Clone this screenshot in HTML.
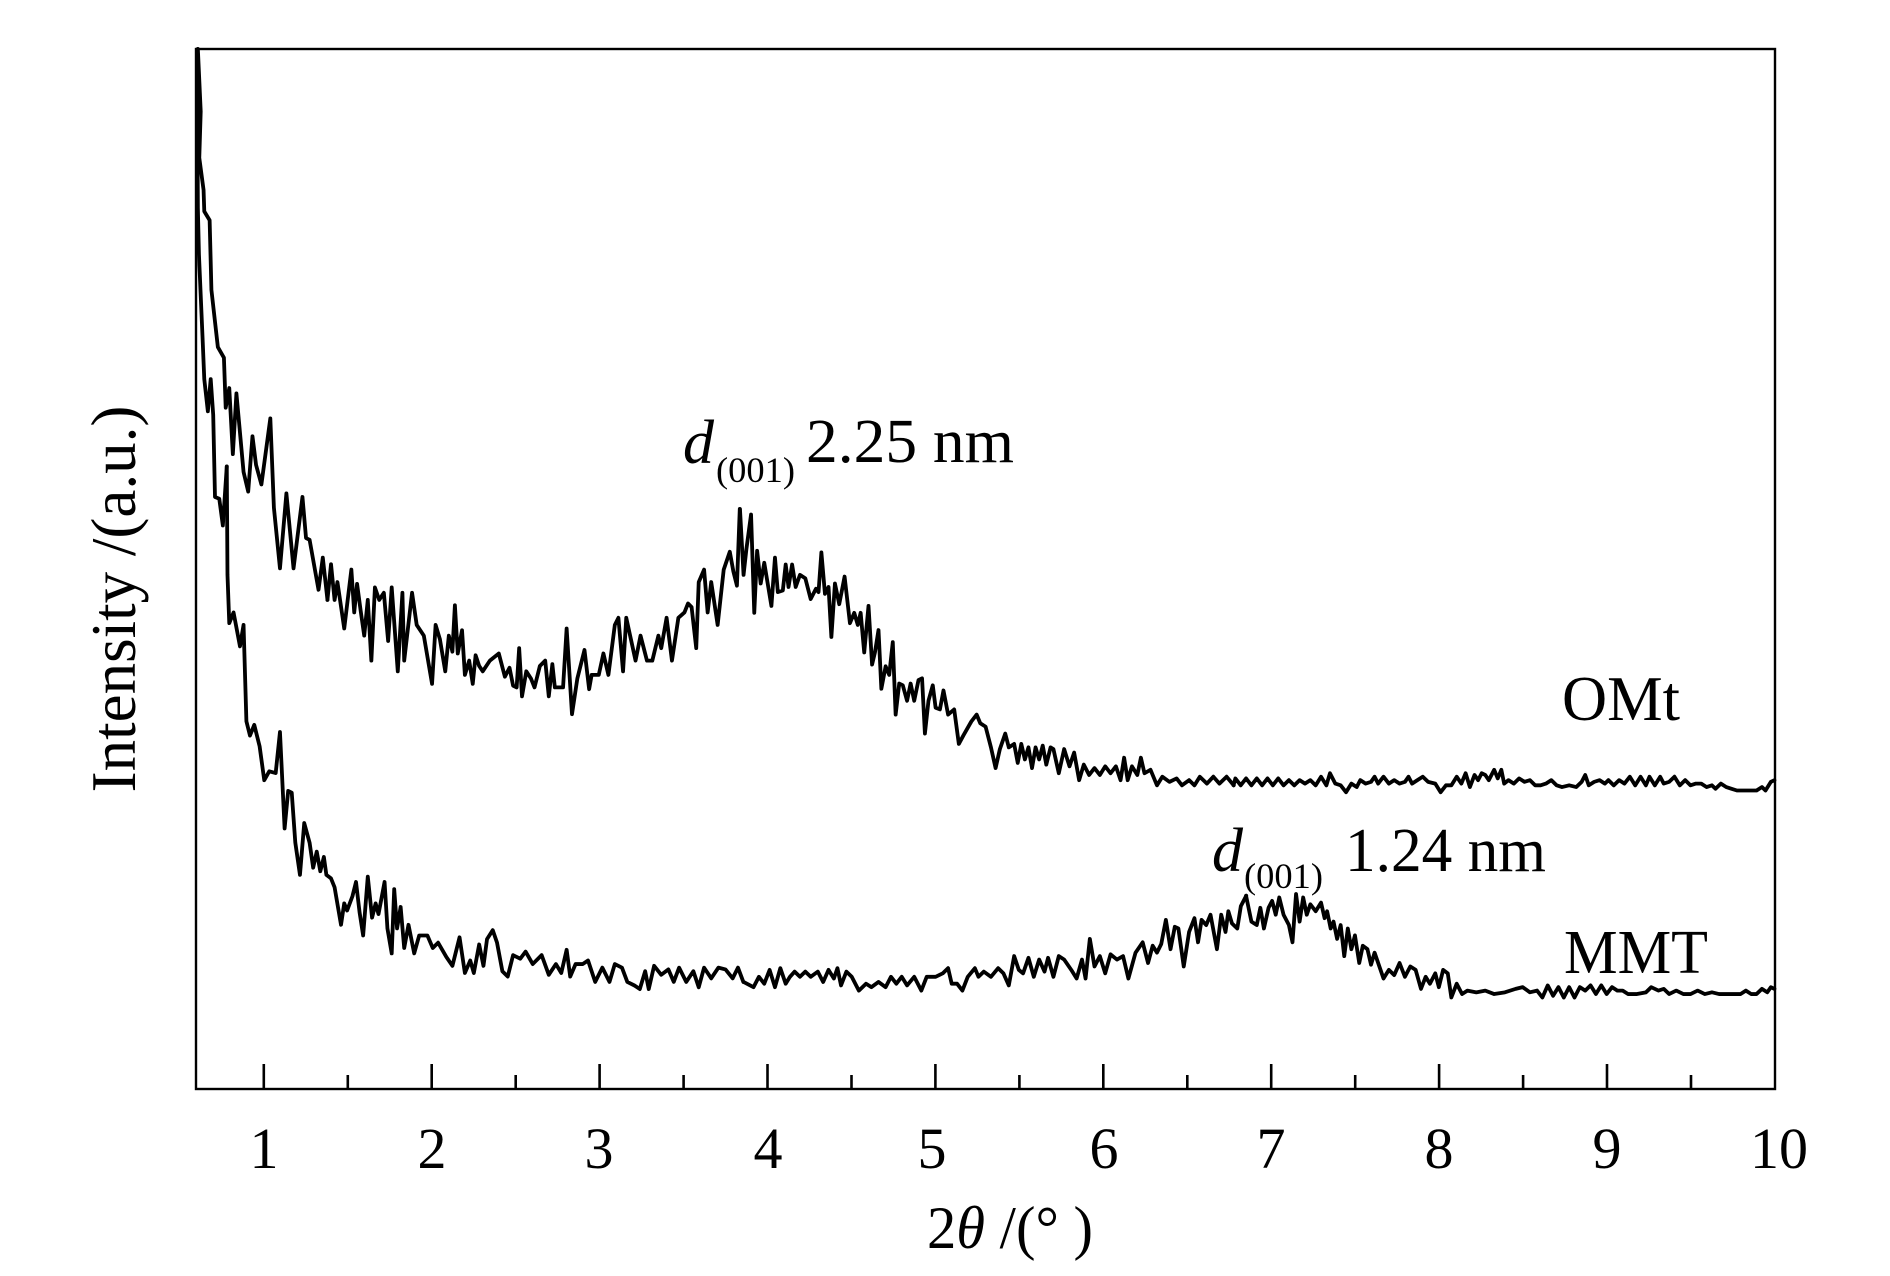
<!DOCTYPE html>
<html>
<head>
<meta charset="utf-8">
<style>
  html, body { margin: 0; padding: 0; background: #ffffff; }
  svg { display: block; }
  text { font-family: "Liberation Serif", "Times New Roman", serif; fill: #000; }
  .c { fill: none; stroke: #000; stroke-width: 3.8; stroke-linejoin: round; stroke-linecap: round; }
</style>
</head>
<body>
<svg width="1890" height="1276" viewBox="0 0 1890 1276" xmlns="http://www.w3.org/2000/svg">
  <rect x="0" y="0" width="1890" height="1276" fill="#ffffff"/>

  <g transform="translate(190,40) scale(0.357)">
    <polyline class="c" vector-effect="non-scaling-stroke" points="22,25 30,200 26,330 38,420 40,480 55,505 60,700 78,860 95,890 100,1030 110,975 120,1160 130,990 150,1210 163,1265 175,1110 185,1190 200,1245 225,1060 235,1310 252,1480 270,1270 290,1480 315,1280 325,1395 335,1400 360,1540 372,1450 385,1568"/>
    <polyline class="c" vector-effect="non-scaling-stroke" points="20,30 22,470 25,600 35,830 40,950 50,1040 58,950 65,1050 70,1280 82,1285 92,1360 103,1195"/>
  </g>

  <g transform="translate(190,450) scale(0.357)">
    <polyline class="c" vector-effect="non-scaling-stroke" points="385,420 395,320 405,420 413,370 432,500 452,335 460,455 468,375 478,450 488,520 498,420 508,590 518,385 530,420 543,400 555,535 565,385 582,620 595,400 600,590 622,400 635,490 655,520 678,655 688,490 700,530 715,620 725,520 735,565 742,435 750,570 762,505 770,630 782,590 792,655 800,575 810,605 820,620 840,590 865,570 882,635 895,610 905,660 915,665 922,555 930,690 942,620 955,640 965,665 980,605 995,590 1005,690 1015,600 1022,665 1045,665 1055,500 1070,740 1085,640 1105,560 1118,670 1125,630 1145,630 1158,570 1172,630 1190,490 1200,470 1213,620 1222,470 1235,530 1248,590 1262,520 1280,590 1295,590 1312,520 1320,555 1335,470 1350,590 1368,470 1385,455 1395,430 1405,440 1418,555 1425,370 1440,335 1450,455 1460,370 1478,490 1495,335 1512,285 1522,340 1532,380 1540,165"/>
    <polyline class="c" vector-effect="non-scaling-stroke" points="103,46 105,350 110,485 122,455 140,550 150,490 158,760 168,800 180,770 195,830 208,925 222,900 240,905 252,790 265,1060 275,955 285,960 295,1100 308,1190 320,1045 335,1100 345,1170 355,1125 365,1180 375,1140 382,1190 395,1200 405,1225 423,1330 432,1270 440,1290 455,1250 465,1210 475,1295 485,1360 498,1195 510,1310 520,1270 528,1300 545,1210 553,1340 565,1410 572,1230 580,1340 590,1280 600,1395 612,1330 628,1410 642,1360 665,1360 680,1395 695,1380 718,1420 735,1445 755,1365 770,1465 785,1430 795,1465 810,1385 822,1445 832,1370 848,1345 860,1380 875,1460 890,1475 905,1415 925,1425 940,1405 960,1440 985,1415 1005,1470 1025,1440 1040,1465 1055,1400 1065,1475 1080,1440 1100,1440 1115,1430 1135,1490 1155,1450 1175,1490 1190,1440 1210,1450 1225,1490 1245,1500 1260,1510 1275,1460 1285,1510 1300,1445 1320,1470 1340,1455 1355,1490 1370,1450 1390,1490 1410,1460 1425,1505 1440,1450 1460,1480 1480,1450 1500,1455 1520,1480 1535,1450 1550,1490"/>
  </g>

  <g transform="translate(700,480) scale(0.357,0.345)">
    <polyline class="c" vector-effect="non-scaling-stroke" points="112,85 122,275 130,200 143,100 152,385 160,205 170,300 180,240 200,365 210,225 218,325 232,320 240,245 248,310 258,245 268,310 280,275 295,285 310,345 325,315 332,325 340,210 350,330 360,310 368,455 378,300 390,360 405,280 420,415 432,385 442,420 450,385 460,500 472,365 482,535 490,500 500,435 508,605 520,540 530,565 540,470 548,680 558,590 568,595 580,640 590,590 600,640 612,580 622,575 630,735 640,640 652,595 660,660 672,665 682,610 695,680 712,665 725,765 738,740 760,700 775,680 785,705 800,715 815,775 828,835 840,780 855,735 865,775 880,765 890,820 900,765 910,810 920,775 930,835 940,775 950,810 960,770 970,825 982,775 990,780 1005,850 1020,780 1035,830 1048,790 1062,870 1075,825 1090,855 1105,835 1120,855 1135,830 1150,850 1165,830 1178,870 1188,805 1198,870 1210,830 1225,855 1235,805 1245,850 1262,840 1280,885 1295,860 1315,875 1335,865 1350,885 1370,870 1385,885 1400,860 1420,880 1438,860 1455,880 1475,860 1495,885"/>
    <polyline class="c" vector-effect="non-scaling-stroke" points="122,1455 150,1470 165,1440 180,1460 195,1420 210,1470 225,1415 240,1460 252,1440 265,1425 280,1440 295,1425 310,1440 330,1425 345,1455 360,1420 375,1445 385,1415 395,1465 410,1425 425,1440 445,1480 465,1460 480,1470 500,1455 520,1470 535,1440 550,1460 565,1440 580,1465 600,1440 620,1480 635,1440 660,1440 680,1430 695,1415 705,1460 720,1460 735,1480 750,1440 770,1415 780,1440 795,1425 815,1440 835,1415 850,1430 865,1465 880,1380 893,1420 905,1430 920,1385 935,1440 950,1390 965,1425 975,1385 990,1440 1005,1380 1020,1390 1040,1420 1055,1445 1070,1390 1080,1445 1092,1330 1105,1410 1120,1380 1135,1430 1150,1375 1168,1390 1185,1380 1200,1445 1220,1370 1240,1340 1255,1400 1268,1350 1280,1370 1292,1345 1305,1275 1318,1360 1330,1295 1340,1300 1355,1410 1370,1310 1385,1270 1395,1340 1405,1275 1418,1290 1430,1260 1448,1360 1460,1260 1472,1310 1480,1250 1490,1285 1505,1300 1515,1235 1530,1205"/>
  </g>

  <g transform="translate(1230,480) scale(0.357,0.345)">
    <polyline class="c" vector-effect="non-scaling-stroke" points="10,885 15,865 30,885 45,865 60,885 75,865 90,885 105,865 120,885 135,865 150,885 165,870 180,885 195,870 210,880 225,870 240,885 255,860 270,885 280,850 295,880 310,885 325,905 340,880 355,890 365,870 380,880 395,875 405,860 415,880 430,860 445,880 460,870 475,880 490,875 500,860 510,880 525,870 540,860 555,875 575,880 590,905 605,885 620,885 635,860 648,880 660,850 672,890 685,855 695,870 705,850 715,855 725,870 740,840 750,865 760,840 768,880 780,870 795,880 810,865 825,875 840,870 855,885 870,885 885,880 900,870 915,885 930,890 950,885 970,890 985,875 995,855 1005,885 1020,875 1035,870 1050,880 1060,870 1075,885 1090,870 1105,880 1120,860 1135,885 1150,860 1165,885 1175,860 1190,885 1205,860 1215,880 1230,875 1245,860 1260,885 1275,870 1290,885 1305,880 1320,880 1335,890 1350,885 1360,895 1375,880 1390,890 1405,895 1420,900 1440,900 1460,900 1475,900 1490,890 1500,900 1515,875 1525,870"/>
    <polyline class="c" vector-effect="non-scaling-stroke" points="45,1205 60,1280 75,1290 85,1240 95,1300 108,1240 118,1220 128,1260 138,1210 150,1260 165,1290 175,1340 185,1200 195,1280 205,1210 215,1260 225,1230 240,1250 255,1225 265,1270 272,1250 282,1300 290,1280 300,1330 310,1290 320,1380 330,1300 340,1360 350,1320 362,1400 372,1350 385,1360 395,1405 405,1370 420,1415 430,1445 445,1420 460,1435 475,1400 490,1440 505,1410 520,1420 535,1475 548,1440 560,1460 575,1430 585,1470 597,1420 610,1430 620,1500 635,1460 650,1490 665,1480 690,1485 715,1480 740,1490 770,1485 800,1475 820,1470 840,1485 860,1480 875,1500 890,1465 905,1495 920,1470 935,1500 950,1470 965,1500 980,1470 995,1480 1010,1465 1025,1490 1040,1465 1055,1490 1070,1470 1085,1480 1100,1480 1115,1490 1140,1490 1165,1485 1180,1470 1200,1480 1215,1475 1230,1490 1250,1480 1270,1490 1290,1490 1310,1480 1330,1490 1350,1485 1370,1490 1390,1490 1410,1490 1430,1490 1445,1480 1460,1490 1475,1490 1490,1475 1505,1485 1515,1470 1525,1475"/>
  </g>

  <rect x="196" y="49" width="1579" height="1040" fill="none" stroke="#000" stroke-width="2.4"/>

  <g stroke="#000" stroke-width="2.6">
    <line x1="263.8" y1="1089" x2="263.8" y2="1064"/>
    <line x1="431.7" y1="1089" x2="431.7" y2="1064"/>
    <line x1="599.6" y1="1089" x2="599.6" y2="1064"/>
    <line x1="767.5" y1="1089" x2="767.5" y2="1064"/>
    <line x1="935.4" y1="1089" x2="935.4" y2="1064"/>
    <line x1="1103.3" y1="1089" x2="1103.3" y2="1064"/>
    <line x1="1271.2" y1="1089" x2="1271.2" y2="1064"/>
    <line x1="1439.1" y1="1089" x2="1439.1" y2="1064"/>
    <line x1="1607.0" y1="1089" x2="1607.0" y2="1064"/>
    <line x1="347.8" y1="1089" x2="347.8" y2="1075"/>
    <line x1="515.7" y1="1089" x2="515.7" y2="1075"/>
    <line x1="683.6" y1="1089" x2="683.6" y2="1075"/>
    <line x1="851.5" y1="1089" x2="851.5" y2="1075"/>
    <line x1="1019.4" y1="1089" x2="1019.4" y2="1075"/>
    <line x1="1187.3" y1="1089" x2="1187.3" y2="1075"/>
    <line x1="1355.2" y1="1089" x2="1355.2" y2="1075"/>
    <line x1="1523.1" y1="1089" x2="1523.1" y2="1075"/>
    <line x1="1691.0" y1="1089" x2="1691.0" y2="1075"/>
  </g>

  <g font-size="58" text-anchor="middle">
    <text x="264" y="1168">1</text>
    <text x="432" y="1168">2</text>
    <text x="599" y="1168">3</text>
    <text x="768" y="1168">4</text>
    <text x="932" y="1168">5</text>
    <text x="1104" y="1168">6</text>
    <text x="1271" y="1168">7</text>
    <text x="1439" y="1168">8</text>
    <text x="1607" y="1168">9</text>
    <text x="1779" y="1168">10</text>
  </g>

  <text x="927" y="1248" font-size="60" textLength="166" lengthAdjust="spacingAndGlyphs">2<tspan font-style="italic">θ</tspan> /(° )</text>
  <text transform="translate(135,599) rotate(-90)" text-anchor="middle" font-size="63">Intensity /(a.u.)</text>

  <text x="683" y="463" font-size="62" font-style="italic">d</text>
  <text x="716" y="482" font-size="36" textLength="79" lengthAdjust="spacingAndGlyphs">(001)</text>
  <text x="806" y="462" font-size="62" textLength="208" lengthAdjust="spacingAndGlyphs">2.25 nm</text>

  <text x="1212" y="871" font-size="62" font-style="italic">d</text>
  <text x="1244" y="888" font-size="36" textLength="79" lengthAdjust="spacingAndGlyphs">(001)</text>
  <text x="1345" y="871" font-size="62" textLength="201" lengthAdjust="spacingAndGlyphs">1.24 nm</text>

  <text x="1562" y="720" font-size="63" textLength="118" lengthAdjust="spacingAndGlyphs">OMt</text>
  <text x="1564" y="973" font-size="62" textLength="144" lengthAdjust="spacingAndGlyphs">MMT</text>
</svg>
</body>
</html>
